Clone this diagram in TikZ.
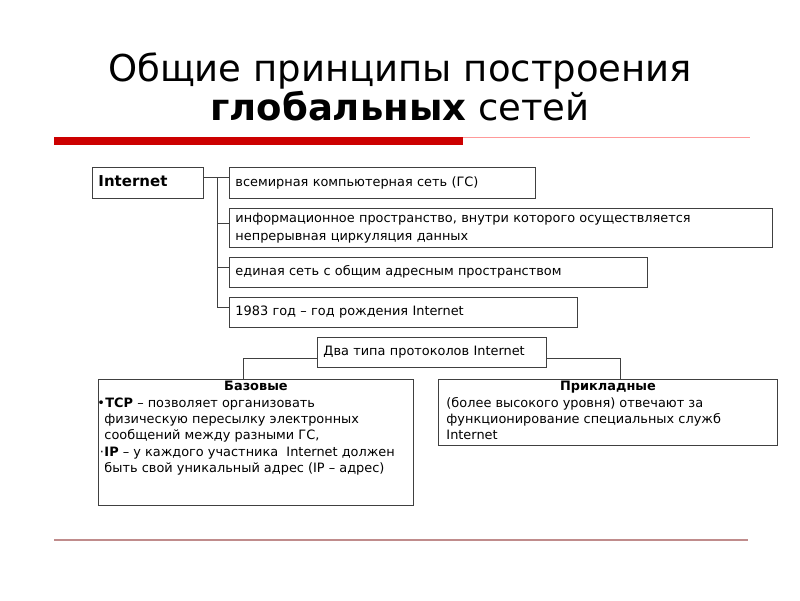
\documentclass[tikz,border=0pt]{standalone}
\usepackage{fontspec}
\setmainfont{DejaVu Sans}
\begin{document}
\begin{tikzpicture}[x=1pt,y=-1pt,
  box/.style={draw=black!75, line width=0.9pt, anchor=north west, inner xsep=6pt, inner ysep=2pt, align=left, font=\fontsize{12.9}{18}\selectfont},
  conn/.style={draw=black!75, line width=0.9pt},
  titlef/.style={font=\fontsize{37}{42}\selectfont}
]
\useasboundingbox (0,0) rectangle (800,600);
% title
\node[titlef, anchor=base] (t1) at (400,81) {Общие принципы построения};
\node[titlef, anchor=base] (t2) at (400,120) {\textbf{глобальных} сетей};
% decorative lines
\fill[red!80!black] (54,137) rectangle (463,145);
\draw[red!40, line width=1pt] (463,137.5) -- (750,137.5);
\draw[red!45!black!45, line width=2.2pt] (54,540) -- (748,540);
% top boxes
\node[box, minimum width=111pt, minimum height=31pt, text width=99pt, font=\fontsize{15}{18}\selectfont] (inet) at (92,167) {\raisebox{3pt}{\textbf{Internet}}};
\node[box, minimum width=306pt, minimum height=31pt, text width=294pt] (b1) at (229,167) {\raisebox{3pt}{всемирная компьютерная сеть (ГС)}};
\node[box, minimum width=543pt, minimum height=39pt, text width=531pt] (b2) at (229,208) {информационное пространство, внутри которого осуществляется\\непрерывная циркуляция данных};
\node[box, minimum width=418pt, minimum height=30pt, text width=406pt] (b3) at (229,257) {\raisebox{3pt}{единая сеть с общим адресным пространством}};
\node[box, minimum width=348pt, minimum height=30pt, text width=336pt] (b4) at (229,297) {\raisebox{3pt}{1983 год – год рождения Internet}};
\coordinate (sp) at (217,177);
\draw[conn] (inet.east |- sp) -- (b1.west |- sp);
\draw[conn] (sp) |- ([yshift=5pt]b4.west);
\draw[conn] ([yshift=5pt]b2.west -| sp) -- ([yshift=5pt]b2.west);
\draw[conn] ([yshift=5pt]b3.west -| sp) -- ([yshift=5pt]b3.west);
% protocol boxes
\node[box, minimum width=229pt, minimum height=30pt, text width=217pt] (two) at (317,337) {\raisebox{3pt}{Два типа протоколов Internet}};
\node[box, anchor=north west, inner sep=0pt] (bas) at (98,379)
  {\fontsize{12.9}{16.3}\selectfont\begin{minipage}[t][126pt][t]{315pt}\vspace{2pt}\centering\textbf{Базовые}\par\raggedright
  \hspace{7pt}\llap{•\hspace{0.5pt}}\textbf{TCP} – позволяет организовать\par
  \hspace{6pt}физическую пересылку электронных\par
  \hspace{6pt}сообщений между разными ГС,\par
  \hspace{6pt}\llap{·\hspace{0.5pt}}\textbf{IP} – у каждого участника\ \ Internet должен\par
  \hspace{6pt}быть свой уникальный адрес (IP – адрес)\end{minipage}};
\node[box, anchor=north west, inner sep=0pt] (app) at (438,379)
  {\fontsize{12.9}{16.3}\selectfont\begin{minipage}[t][66pt][t]{339pt}\vspace{2pt}\centering\textbf{Прикладные}\par\raggedright
  \hspace{8pt}(более высокого уровня) отвечают за\par
  \hspace{8pt}функционирование специальных служб\par
  \hspace{8pt}Internet\end{minipage}};
\draw[conn] ([yshift=-6pt]two.west) -| ([xshift=-12.5pt]bas.north);
\draw[conn] ([yshift=-6pt]two.east) -| ([xshift=12.5pt]app.north);
\end{tikzpicture}
\end{document}
